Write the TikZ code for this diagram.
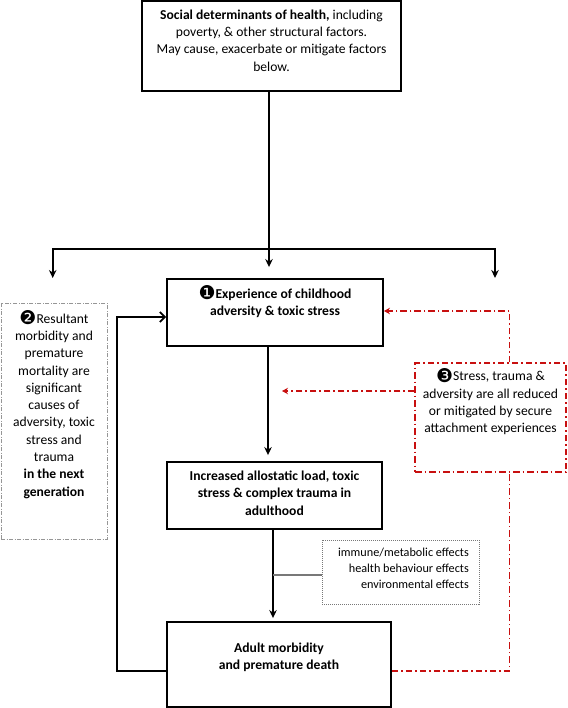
\documentclass[tikz,border=0pt]{standalone}
\usepackage{fontspec}
\setmainfont{Carlito}
\newfontfamily\dejavu{DejaVu Sans}
\usetikzlibrary{arrows.meta,calc}
\definecolor{dred}{RGB}{200,16,16}
\definecolor{lgray}{RGB}{150,150,150}
\definecolor{cgray}{RGB}{120,120,120}
\newcommand{\cnum}[1]{\raisebox{-1.5pt}{\dejavu\mdseries\fontsize{19pt}{19pt}\selectfont #1}}
\begin{document}
\begin{tikzpicture}[x=1pt,y=-1pt,
  box/.style={draw, line width=1.9pt, inner sep=0pt, rectangle},
  txt/.style={align=center, inner sep=0pt, font=\fontsize{13.6pt}{17.3pt}\selectfont},
  btxt/.style={txt, font=\fontsize{13.6pt}{17.3pt}\selectfont\bfseries},
  smalltxt/.style={align=right, inner sep=0pt, font=\fontsize{12.2pt}{16.2pt}\selectfont},
  conn/.style={line width=1.8pt},
  arr/.style={line width=1.8pt, -{Stealth[length=8pt,width=7.5pt]}},
  looparr/.style={line width=1.8pt, -{Straight Barb[length=5pt,width=10pt,line width=1.8pt]}},
  redline/.style={draw=dred, line width=1.3pt, dash pattern=on 6.5pt off 3pt on 1.5pt off 3pt},
  redarr/.style={redline, -{Stealth[length=6pt,width=6.5pt]}, dred},
  graybox/.style={draw=lgray, line width=1pt, dash pattern=on 4pt off 1.5pt on 1pt off 1.5pt, inner sep=0pt},
  redbox/.style={draw=dred, line width=1.2pt, dash pattern=on 6.5pt off 3pt on 1.5pt off 3pt, inner sep=0pt},
  dotbox/.style={draw=cgray, line width=1pt, densely dotted, inner sep=0pt}
]
\useasboundingbox (0,0) rectangle (567,708);

% boxes
\node[box, minimum width=259pt, minimum height=90pt] (top) at (271.5,46) {};
\node[box, minimum width=216pt, minimum height=67pt] (b1) at (275,312.5) {};
\node[box, minimum width=215pt, minimum height=67pt] (b2) at (274.5,495.5) {};
\node[box, minimum width=224pt, minimum height=85pt] (b3) at (279,664.5) {};
\node[graybox, minimum width=106pt, minimum height=236pt] (lb) at (54,421) {};
\node[redbox, minimum width=151pt, minimum height=109pt] (rb) at (490.5,417.5) {};
\node[dotbox, minimum width=157pt, minimum height=64pt] (fx) at (400.5,572) {};

% texts
\node[txt] (topt) at (271.5,40.5) {\textbf{Social determinants of health,} including\\poverty, \& other structural factors.\\May cause, exacerbate or mitigate factors\\below.};
\node[btxt] (b1t) at (275,301.5) {\cnum{❶}Experience of childhood\\adversity \& toxic stress};
\node[btxt] (b2t) at (274.5,493) {Increased allostatic load, toxic\\stress \& complex trauma in\\adulthood};
\node[btxt] (b3t) at (279,657.5) {Adult morbidity\\and premature death};
\node[txt] (lbt) at (54,404.5) {\cnum{❷}Resultant\\morbidity and\\premature\\mortality are\\significant\\causes of\\adversity, toxic\\stress and\\trauma\\\textbf{in the next}\\\textbf{generation}};
\node[txt] (rbt) at (490.5,401.5) {\cnum{❸}Stress, trauma \&\\adversity are all reduced\\or mitigated by secure\\attachment experiences};
\node[smalltxt, anchor=east] (fxt) at (469,568.5) {immune/metabolic effects\\health behaviour effects\\environmental effects};

% coordinates
\coordinate (split) at (269,249);
\coordinate (lft) at (52.7,278);
\coordinate (rgt) at (495,278);
\coordinate (col1) at (268,400);
\coordinate (col2) at (273,575);
\coordinate (loopx) at (117,500);
\coordinate (redx) at (509.5,300);
\coordinate (redtip) at (282,391);

% connectors
\draw[conn] (split |- top.south) -- (split);
\draw[arr, shorten >=11pt] (split) -- (split |- b1.north);
\draw[arr] (split) -| (lft);
\draw[arr] (split) -| (rgt);
\draw[arr, shorten >=6pt] (col1 |- b1.south) -- (col1 |- b2.north);
\draw[arr, shorten >=3pt] (col2 |- b2.south) -- (col2 |- b3.north);
\draw[draw=cgray, line width=1.2pt] (col2) -- (col2 -| fx.west);
\draw[looparr] ([yshift=-6.5pt]b3.west) -| (loopx) |- ([yshift=-4.5pt]b1.west);
\draw[redarr] (rb.north -| redx) |- ([yshift=1.5pt]b1.east);
\draw[redarr] (rb.west |- redtip) -- (redtip);
\draw[redline] ([yshift=-6.5pt]b3.east) -| (rb.south -| redx);
\end{tikzpicture}
\end{document}
